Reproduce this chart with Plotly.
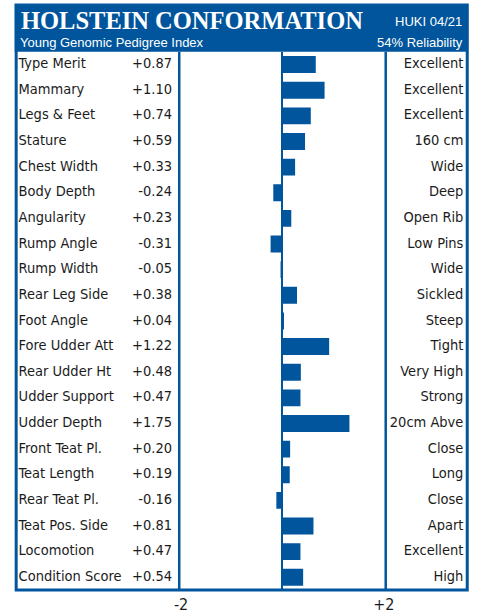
import plotly.graph_objects as go

traits = ['Type Merit', 'Mammary', 'Legs & Feet', 'Stature', 'Chest Width',
          'Body Depth', 'Angularity', 'Rump Angle', 'Rump Width', 'Rear Leg Side',
          'Foot Angle', 'Fore Udder Att', 'Rear Udder Ht', 'Udder Support',
          'Udder Depth', 'Front Teat Pl.', 'Teat Length', 'Rear Teat Pl.',
          'Teat Pos. Side', 'Locomotion', 'Condition Score']
values = [0.87, 1.10, 0.74, 0.59, 0.33, -0.24, 0.23, -0.31, -0.05, 0.38, 0.04,
          1.22, 0.48, 0.47, 1.75, 0.20, 0.19, -0.16, 0.81, 0.47, 0.54]
descriptions = ['Excellent', 'Excellent', 'Excellent', '160 cm', 'Wide', 'Deep',
                'Open Rib', 'Low Pins', 'Wide', 'Sickled', 'Steep', 'Tight',
                'Very High', 'Strong', '20cm Abve', 'Close', 'Long', 'Close',
                'Apart', 'Excellent', 'High']
tick_vals = [-2.65, 2.65]
tick_text = ['-2', '+2']

W, H = 484, 614
BLUE = '#00559c'
INK = '#1b1b1b'
NARROW = 'Liberation Sans Narrow, DejaVu Sans Condensed, Arial Narrow, sans-serif'
SANS = 'Liberation Sans, Arial, sans-serif'


def px(x):
    return x / W


def py(y):
    return 1 - y / H


value_text = ['+%.2f' % v if v >= 0 else '%.2f' % v for v in values]
n = len(traits)

fig = go.Figure()

# middle panel: the bars
fig.add_trace(go.Bar(x=values, y=traits, orientation='h',
                     marker=dict(color=BLUE, line=dict(width=0)),
                     hoverinfo='x+y', showlegend=False))

# left panel: trait names and values
fig.add_trace(go.Scatter(x=[0] * n, y=traits, mode='text', text=traits,
                         textposition='middle right', xaxis='x2', cliponaxis=False,
                         textfont=dict(family=NARROW, size=14.5, color=INK),
                         hoverinfo='skip', showlegend=False))
fig.add_trace(go.Scatter(x=[1] * n, y=traits, mode='text', text=value_text,
                         textposition='middle left', xaxis='x2', cliponaxis=False,
                         textfont=dict(family=NARROW, size=14.5, color=INK),
                         hoverinfo='skip', showlegend=False))

# right panel: descriptions
fig.add_trace(go.Scatter(x=[1] * n, y=traits, mode='text', text=descriptions,
                         textposition='middle left', xaxis='x3', cliponaxis=False,
                         textfont=dict(family=NARROW, size=14.5, color=INK),
                         hoverinfo='skip', showlegend=False))

shapes = [
    # header
    dict(type='rect', xref='paper', yref='paper', x0=px(8), x1=px(478),
         y0=py(52), y1=py(4), fillcolor=BLUE, line=dict(width=0), layer='below'),
    # outer frame
    dict(type='rect', xref='paper', yref='paper', x0=px(9.5), x1=px(477),
         y0=py(593), y1=py(5), line=dict(color=BLUE, width=3)),
    # dividers
    dict(type='line', xref='paper', yref='paper', x0=px(178.5), x1=px(178.5),
         y0=py(593), y1=py(52), line=dict(color=BLUE, width=2.5)),
    dict(type='line', xref='paper', yref='paper', x0=px(392.5), x1=px(392.5),
         y0=py(593), y1=py(52), line=dict(color=BLUE, width=2.5)),
]

annotations = [
    dict(text='HOLSTEIN CONFORMATION', xref='paper', yref='paper', x=px(12), y=py(21),
         xanchor='left', yanchor='middle', showarrow=False,
         font=dict(family='Liberation Serif, Times New Roman, serif', size=24.5,
                   color='white', weight='bold')),
    dict(text='HUKI 04/21', xref='paper', yref='paper', x=px(474), y=py(22),
         xanchor='right', yanchor='middle', showarrow=False,
         font=dict(family=SANS, size=13, color='white')),
    dict(text='Young Genomic Pedigree Index', xref='paper', yref='paper', x=px(11), y=py(43),
         xanchor='left', yanchor='middle', showarrow=False,
         font=dict(family=SANS, size=13, color='white')),
    dict(text='54% Reliability', xref='paper', yref='paper', x=px(475), y=py(43),
         xanchor='right', yanchor='middle', showarrow=False,
         font=dict(family=SANS, size=13, color='white')),
]

fig.update_layout(
    width=W, height=H,
    margin=dict(l=0, r=0, t=0, b=0),
    paper_bgcolor='white', plot_bgcolor='white',
    bargap=0.34,
    shapes=shapes,
    annotations=annotations,
    xaxis=dict(domain=[px(180), px(391)], range=[-2.66, 2.66], anchor='y',
               tickvals=tick_vals, ticktext=tick_text, ticks='',
               ticklabelstandoff=3,
               tickfont=dict(family=NARROW, size=16, color=INK),
               showgrid=False, zeroline=True, zerolinecolor=BLUE, zerolinewidth=1.5,
               showline=False, fixedrange=True),
    xaxis2=dict(domain=[px(12), px(171)], range=[0, 1], anchor='y',
                visible=False, fixedrange=True),
    xaxis3=dict(domain=[px(395), px(473)], range=[0, 1], anchor='y',
                visible=False, fixedrange=True),
    yaxis=dict(domain=[py(593), py(52)], range=[n - 0.5, -0.5], showticklabels=False,
               ticks='', showgrid=False, zeroline=False, showline=False,
               fixedrange=True),
)

fig.write_html('out.html', config={'displayModeBar': False},
               post_script="document.documentElement.style.overflow='hidden';"
                           "document.body.style.margin='0';"
                           "document.body.style.overflow='hidden';")
